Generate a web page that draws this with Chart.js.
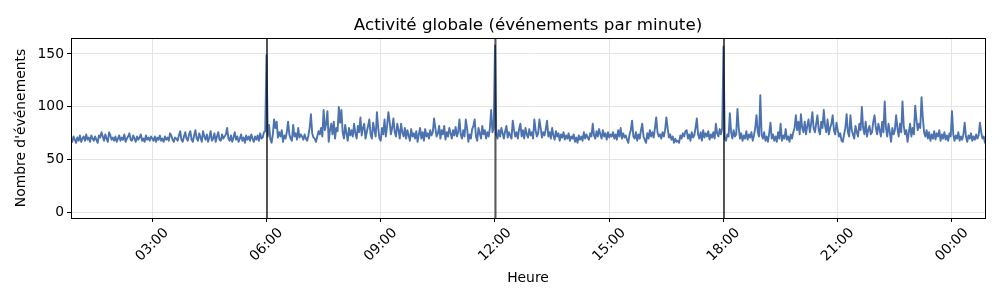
<!DOCTYPE html>
<html>
<head>
<meta charset="utf-8">
<script src="https://cdn.jsdelivr.net/npm/chart.js@4.4.1/dist/chart.umd.min.js"></script>
<style>
html, body { margin: 0; padding: 0; background: #fff; }
</style>
</head>
<body>
<canvas id="myChart" width="1000" height="300"></canvas>
<script>
// minutes since midnight of the first sample, one sample every 2 minutes
var startMinute = 52;
var stepMinutes = 2;

var eventsPerMinute = [
    // 00:52 -> 03:00
    70, 67, 72, 69, 66, 71, 68, 73, 67, 70, 72, 68, 74, 69, 71, 67, 73, 70, 68, 72,
    69, 66, 73, 71, 76, 72, 68, 74, 70, 67, 76, 73, 69, 71, 68, 72, 67, 70, 73, 68,
    71, 69, 74, 67, 70, 72, 75, 69, 68, 73, 70, 67, 72, 69, 71, 74, 68, 70, 67, 73,
    69, 71, 68, 72,
    70, 68, 72, 67, 71, 69, 73, 68, 70, 67, 72, 69, 71, 68, 75, 73, 69, 67, 71, 70,
    68, 73, 77, 69, 67, 72, 76, 70, 68, 74, 77, 69, 67, 73, 78, 70, 68, 75, 71, 67,
    77, 72, 69, 74, 67, 71, 77, 68, 70, 75, 67, 72, 76, 69, 68, 74, 70, 72,
    // -> 06:00
    74, 80, 70, 68, 73, 67, 71, 76, 69, 72, 67, 70, 74, 68, 71, 66, 73, 69, 72, 68,
    74, 70, 67, 72, 69, 73, 68, 75, 70, 71, 76, 77,
    149,
    72, 83, 70, 66, 74, 88, 80, 86, 71, 76, 72, 78, 67, 73, 70, 76, 86, 74, 70, 68,
    83, 72, 75, 69, 80, 71, 74,
    72, 69, 74, 70, 68, 73, 80, 93, 75, 71, 70, 67, 72, 77, 74, 80, 72, 97, 78, 84,
    96, 67, 78, 84, 74, 86, 70, 80, 77, 100, 85, 97, 76, 70, 83, 75, 68, 80, 73, 78,
    72, 84, 75, 70, 82, 76, 90, 73, 80, 84, 70, 76, 82, 88, 74, 70, 85, 78, 72, 95,
    80, 70,
    68, 80, 74, 88, 72, 82, 95, 86, 74, 80, 89, 76, 72, 84, 78, 70, 84, 76, 72, 80,
    70, 78, 73, 68, 79, 72, 75, 70, 77, 67, 74, 80, 70, 76, 68, 79, 72, 75, 70, 78,
    73, 76, 89, 80, 72, 75, 82, 70, 78, 74, 82, 69, 76, 72, 80, 75, 70, 78, 73, 81,
    // -> 12:00
    72, 76, 88, 74, 70, 78, 72, 88, 80, 67, 74, 70, 79, 82, 88, 72, 68, 80, 75, 70,
    82, 74, 78, 70, 76, 72, 80, 97, 76, 80,
    158,
    74, 70, 78, 72, 80, 75, 70, 77, 82, 71, 76, 73, 70, 87, 78, 72, 76, 70, 79, 84,
    72, 78, 70, 80, 74, 71, 79, 73, 76, 70, 88, 78, 72, 75, 88, 80, 71, 76, 73, 79,
    87, 72, 76, 70, 80, 73, 69, 77, 72, 75, 68, 74, 71, 76, 69, 73, 70, 75, 68, 72,
    70, 74, 67, 71, 66, 73, 69, 72, 68, 76, 70, 74, 71, 69, 75, 72, 84, 73, 70, 77,
    72, 79, 74, 70, 78, 72, 75, 69, 76, 71, 74,
    72, 76, 70, 74, 69, 78, 72, 80, 70, 75, 71, 73, 69, 66, 74, 78, 87, 72, 70, 76,
    68, 74, 70, 78, 84, 72, 69, 66, 75, 70, 78, 72, 76, 71, 80, 90, 76, 72, 74, 70,
    76, 72, 78, 90, 80, 71, 74, 69, 72, 66, 70, 67, 68, 66, 73, 70, 75, 72, 77, 78,
    70, 74, 68, 76, 71, 73, 80, 89, 74, 70, 76, 68, 78, 71, 75, 72, 77, 69, 74, 71,
    // -> 18:00
    76, 70, 84, 75, 72, 79, 74, 80,
    157,
    70, 68, 74, 72, 94, 76, 70, 78, 72, 74, 98, 80, 70, 75, 68, 73, 70, 77, 69, 74,
    71, 76, 68, 73, 80, 92, 76, 72, 111,
    74, 70, 76, 68, 72, 67, 75, 85, 70, 74, 68, 72, 67, 76, 70, 84, 68, 73, 70, 79,
    69, 72, 67, 74, 70, 76, 80, 92, 78, 86, 74, 93, 80, 76, 86, 74, 82, 88, 76, 84,
    95, 80, 76, 84, 92, 78, 74, 86, 80, 97, 82, 76, 88, 74, 80, 84, 92, 78, 74, 85,
    78, 72, 75, 68,
    67, 74, 80, 93, 76, 72, 92, 78, 74, 70, 82, 76, 72, 84, 78, 100, 80, 74, 86, 72,
    78, 82, 74, 76, 86, 92, 80, 74, 84, 78, 72, 86, 76, 105, 80, 72, 84, 76, 67, 80,
    74, 78, 92, 80, 72, 84, 76, 105, 82, 74, 78, 67, 76, 84, 72, 80, 74, 101, 88, 78,
    // -> 00:52
    84, 80, 109, 90, 76, 72, 78, 70, 76, 68, 74, 70, 77, 69, 75, 72, 78, 68, 74, 70,
    76, 69, 73, 68, 75, 72, 96, 74, 68, 73, 70, 76, 68, 72, 69, 74, 85, 72, 67, 73,
    70, 75, 68, 72, 69, 74, 70, 73, 85, 76, 70, 72, 66
];

var markerMinutes = [360, 720, 1080];
var tickMinutes = [180, 360, 540, 720, 900, 1080, 1260, 1440];
var tickLabels = ["03:00", "06:00", "09:00", "12:00", "15:00", "18:00", "21:00", "00:00"];
var yTicks = [0, 50, 100, 150];

var points = eventsPerMinute.map(function (v, i) {
    return { x: startMinute + i * stepMinutes, y: v };
});

var font = 'DejaVu Sans';
Chart.defaults.font.family = font;

// vertical markers, closed frame and centred 45° time labels (matplotlib style)
var extras = {
    id: 'extras',
    afterDatasetsDraw: function (chart) {
        var ctx = chart.ctx, area = chart.chartArea, xs = chart.scales.x;
        ctx.save();
        ctx.strokeStyle = 'rgba(0,0,0,0.65)';
        ctx.lineWidth = 2;
        markerMinutes.forEach(function (m) {
            var px = xs.getPixelForValue(m);
            ctx.beginPath();
            ctx.moveTo(px + 0.5, area.top);
            ctx.lineTo(px + 0.5, area.bottom);
            ctx.stroke();
        });
        ctx.restore();
    },
    afterDraw: function (chart) {
        var ctx = chart.ctx, area = chart.chartArea, xs = chart.scales.x;
        ctx.save();
        ctx.strokeStyle = '#000';
        ctx.lineWidth = 1;
        ctx.strokeRect(Math.round(area.left) + 0.5, Math.round(area.top) + 0.5,
            Math.round(area.right - area.left), Math.round(area.bottom - area.top));
        ctx.font = '13.9px "' + font + '"';
        ctx.fillStyle = '#000';
        ctx.textAlign = 'center';
        ctx.textBaseline = 'middle';
        tickMinutes.forEach(function (m, i) {
            var w = ctx.measureText(tickLabels[i]).width;
            var half = (w + 16) * Math.SQRT1_2 / 2;
            ctx.save();
            ctx.translate(xs.getPixelForValue(m), area.bottom + 7 + half);
            ctx.rotate(-Math.PI / 4);
            ctx.fillText(tickLabels[i], 0, 0);
            ctx.restore();
        });
        ctx.restore();
    }
};

var ctx = document.getElementById('myChart').getContext('2d');
var chart = new Chart(ctx, {
    type: 'line',
    data: {
        datasets: [{
            label: 'Événements',
            data: points,
            borderColor: '#4c72b0',
            borderWidth: 1.9,
            borderJoinStyle: 'round',
            borderCapStyle: 'round',
            pointRadius: 0,
            tension: 0,
            fill: false
        }]
    },
    options: {
        responsive: false,
        animation: false,
        devicePixelRatio: 1,
        layout: { padding: { left: 0, right: 15, top: 0, bottom: 0 } },
        plugins: {
            legend: { display: false },
            tooltip: { enabled: false },
            title: {
                display: true,
                fullSize: false,
                text: 'Activité globale (événements par minute)',
                color: '#000',
                font: { size: 16.7, weight: 'normal' },
                padding: { top: 16, bottom: 2 }
            }
        },
        scales: {
            x: {
                type: 'linear',
                min: 52,
                max: 1492,
                afterBuildTicks: function (s) { s.ticks = tickMinutes.map(function (v) { return { value: v }; }); },
                afterFit: function (s) { s.height = 82; },
                ticks: { display: false },
                grid: { color: '#e4e4e4', tickColor: '#000', tickLength: 4, lineWidth: 1 },
                border: { color: '#000', width: 1 },
                title: {
                    display: true, text: 'Heure', color: '#000',
                    font: { size: 13.9 }, padding: { top: 0, bottom: 13.7 }
                }
            },
            y: {
                min: -5,
                max: 165,
                afterBuildTicks: function (s) { s.ticks = yTicks.map(function (v) { return { value: v }; }); },
                afterFit: function (s) { s.width = 71; },
                ticks: { color: '#000', font: { size: 13.9 }, padding: 3 },
                grid: { color: '#e4e4e4', tickColor: '#000', tickLength: 4, lineWidth: 1 },
                border: { color: '#000', width: 1 },
                title: {
                    display: true, text: "Nombre d'événements", color: '#000',
                    font: { size: 13.9 }, padding: { top: 13, bottom: 0 }
                }
            }
        }
    },
    plugins: [extras]
});
</script>
</body>
</html>
